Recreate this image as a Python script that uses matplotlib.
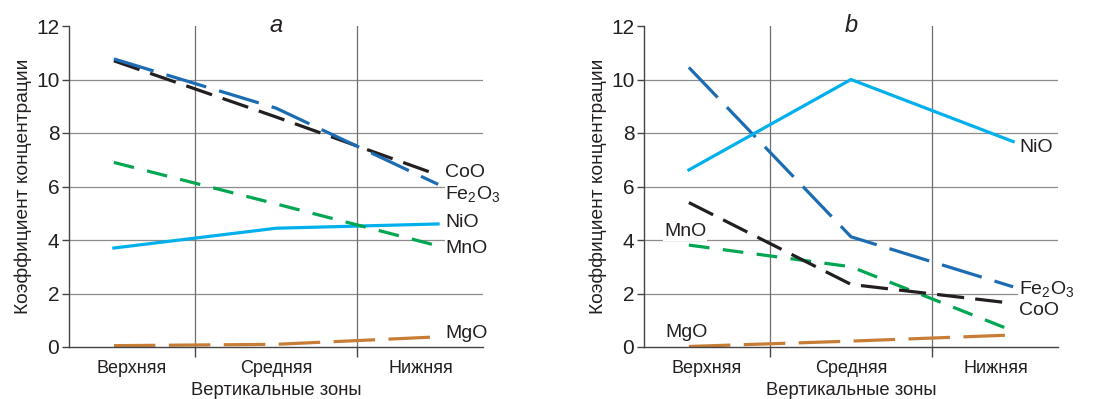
import numpy as np
import matplotlib.pyplot as plt

plt.rcParams['font.family'] = ['Liberation Sans', 'DejaVu Sans']
plt.rcParams['mathtext.fontset'] = 'custom'
plt.rcParams['mathtext.rm'] = 'Liberation Sans'
plt.rcParams['mathtext.it'] = 'Liberation Sans:italic'

# данные
zones = ['Верхняя', 'Средняя', 'Нижняя']

a_coo = [10.7, 8.6, 6.43]
a_fe2o3 = [10.77, 8.93, 6.08]
a_mno = [6.9, 5.35, 3.78]
a_nio = [3.7, 4.44, 4.6]
a_mgo = [0.05, 0.1, 0.38]

b_nio = [6.62, 10.0, 7.68]
b_fe2o3 = [10.45, 4.12, 2.25]
b_coo = [5.4, 2.34, 1.63]
b_mno = [3.81, 3.0, 0.6]
b_mgo = [0.02, 0.22, 0.45]

FE = r'$\mathregular{Fe_2O_3}$'

styles = {
    'Fe2O3': dict(color='#1c6cb4', dashes=(13, 4.2)),
    'CoO': dict(color='#231f20', dashes=(8.5, 3.5)),
    'MnO': dict(color='#00a651', dashes=(6.5, 4.2)),
    'NiO': dict(color='#00b0ec', linestyle='-'),
    'MgO': dict(color='#c87d37', dashes=(13, 4.2)),
}

# положение точек по оси x (немного шире меток)
px = 1 + (np.arange(3) - 1) * 1.12


def setup(ax, letter):
    ax.set_xlim(-0.43, 2.43)
    ax.set_ylim(0, 12)
    ax.set_yticks(range(0, 13, 2))
    ax.set_xticks([0.44, 1.56])
    ax.set_xticklabels([])
    ax.tick_params(axis='x', length=7, width=1, color='#444444')
    ax.tick_params(axis='y', length=5, width=1, color='#444444', labelsize=15,
                   pad=2, labelcolor='#231f20')
    for i, z in enumerate(zones):
        ax.text(i, -0.5, z, ha='center', va='top', fontsize=13, color='#231f20')
    for y in range(2, 12, 2):
        ax.axhline(y, color='#8c8c8c', lw=0.9, zorder=0)
    for x in (0.44, 1.56):
        ax.axvline(x, color='#6e6e6e', lw=0.9, zorder=0)
    for s in ('top', 'right'):
        ax.spines[s].set_visible(False)
    for s in ('left', 'bottom'):
        ax.spines[s].set_color('#444444')
        ax.spines[s].set_linewidth(1)
    ax.set_ylabel('Коэффициент концентрации', fontsize=13.8, color='#231f20', labelpad=3)
    ax.text(0.5, -0.137, 'Вертикальные зоны', transform=ax.transAxes, ha='center',
            va='center', fontsize=13.2, color='#231f20')
    ax.text(1, 12, letter, ha='center', va='center', fontsize=17, style='italic',
            color='#231f20')


def lbl(ax, x, y, s):
    ax.text(x, y, s, ha='left', va='center', fontsize=14, color='#231f20',
            bbox=dict(facecolor='white', edgecolor='none', pad=0.5), zorder=4)


fig = plt.figure(figsize=(10.93, 3.99), dpi=100)
ax1 = fig.add_axes([69 / 1093, 52 / 399, 414 / 1093, 321 / 399])
ax2 = fig.add_axes([644 / 1093, 52 / 399, 414 / 1093, 321 / 399])

# панель a
setup(ax1, 'a')
ax1.plot(px, a_mgo, lw=2.3, **styles['MgO'])
ax1.plot(px, a_nio, lw=2.3, **styles['NiO'])
ax1.plot(px, a_mno, lw=2.3, **styles['MnO'])
ax1.plot(px, a_coo, lw=2.3, **styles['CoO'])
ax1.plot(px, a_fe2o3, lw=2.3, **styles['Fe2O3'])
lbl(ax1, 2.17, 6.54, 'CoO')
lbl(ax1, 2.17, 5.72, FE)
lbl(ax1, 2.17, 4.67, 'NiO')
lbl(ax1, 2.17, 3.7, 'MnO')
lbl(ax1, 2.17, 0.52, 'MgO')

# панель b
setup(ax2, 'b')
ax2.plot(px, b_mgo, lw=2.3, **styles['MgO'])
ax2.plot(px, b_mno, lw=2.3, **styles['MnO'])
ax2.plot(px, b_coo, lw=2.3, **styles['CoO'])
ax2.plot(px, b_fe2o3, lw=2.3, **styles['Fe2O3'])
ax2.plot(px, b_nio, lw=2.3, **styles['NiO'])
lbl(ax2, 2.16, 7.44, 'NiO')
lbl(ax2, 2.16, 2.16, FE)
lbl(ax2, 2.16, 1.38, 'CoO')
lbl(ax2, -0.29, 4.3, 'MnO')
lbl(ax2, -0.28, 0.56, 'MgO')

fig.savefig('out.png', dpi=100)
